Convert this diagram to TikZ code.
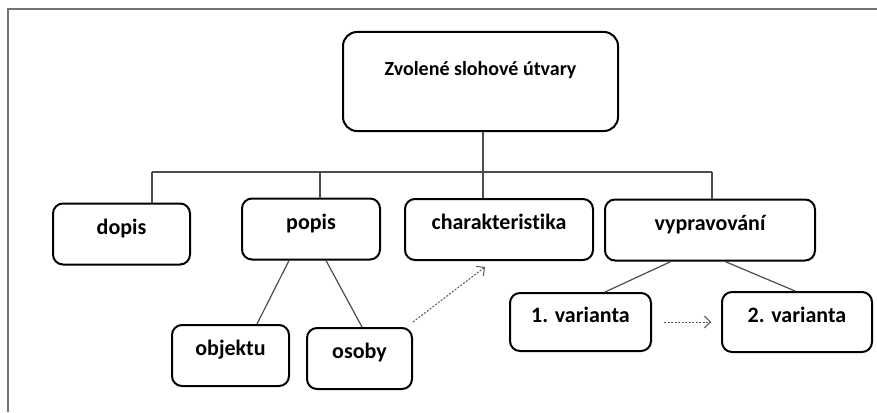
\documentclass[tikz,border=0pt]{standalone}
\usepackage{fontspec}
\setmainfont[Ligatures=NoCommon]{Carlito}
\usetikzlibrary{arrows.meta}

\tikzstyle{blok}=[shape=rectangle,draw,line width=2pt,rounded corners=10pt,inner sep=0pt,text height=11pt,text depth=11pt,font=\fontsize{22}{26}\selectfont\bfseries]
\tikzstyle{vetev}=[draw=black!70,line width=1.2pt]
\tikzstyle{odkaz}=[draw=black!65,line width=1pt,dash pattern=on 2pt off 1.5pt,-{Straight Barb[length=6pt,width=12pt]}]

\begin{document}
\begin{tikzpicture}[x=1pt,y=-1pt]
	\useasboundingbox (0,0) rectangle (877,412);
	\draw[black!55,line width=2pt] (877,9.5) -- (8,9.5) -- (8,412);
	\node[blok,rounded corners=14pt,minimum width=275pt,minimum height=99pt,text height=11pt,text depth=24pt,font=\fontsize{20}{24}\selectfont\bfseries] (slohy) at (480.5,81.5) {Zvolené slohové útvary};
	\foreach \id/\name/\x/\y/\w in {dopis/dopis/121.5/234/137, popis/popis/311/229/138, char/charakteristika/499/229.5/188, vyprav/vypravování/710/230/210}
	\node[blok,minimum width=\w pt,minimum height=61pt] (\id) at (\x,\y) {{\name}};
	\foreach \id/\name/\x/\y/\w/\h in {objektu/objektu/230.5/355.5/117/61, osoby/osoby/359.5/358.5/105/61, var1/1. varianta/580.5/322/141/58, var2/2. varianta/797/322/150/60}
	\node[blok,minimum width=\w pt,minimum height=\h pt] (\id) at (\x,\y) {{\name}};
	% strom
	\coordinate (hub) at (483,172);
	\draw[vetev] (hub |- slohy.south) -- (hub |- char.north);
	\foreach \n/\x in {dopis/152, popis/320, vyprav/712}
	\coordinate (b\n) at (\x,172);
	\draw[vetev] (bdopis) -- (bvyprav);
	\foreach \n in {dopis, popis, vyprav}
	\draw[vetev] (b\n) -- (b\n |- \n.north);
	\draw[vetev] ([xshift=-22pt]popis.south) -- ([xshift=26.5pt]objektu.north);
	\draw[vetev] ([xshift=15pt]popis.south) -- ([xshift=2.5pt]osoby.north);
	\draw[vetev] ([xshift=-39pt]vyprav.south) -- ([xshift=24.5pt]var1.north);
	\draw[vetev] ([xshift=15pt]vyprav.south) -- ([xshift=-2pt]var2.north);
	% odkazy
	\draw[odkaz] ([yshift=5pt]osoby.north east) -- ([xshift=-14pt,yshift=-6pt]char.south);
	\draw[odkaz] ([xshift=12pt]var1.east) -- ([xshift=-10pt]var2.west);
\end{tikzpicture}
\end{document}
